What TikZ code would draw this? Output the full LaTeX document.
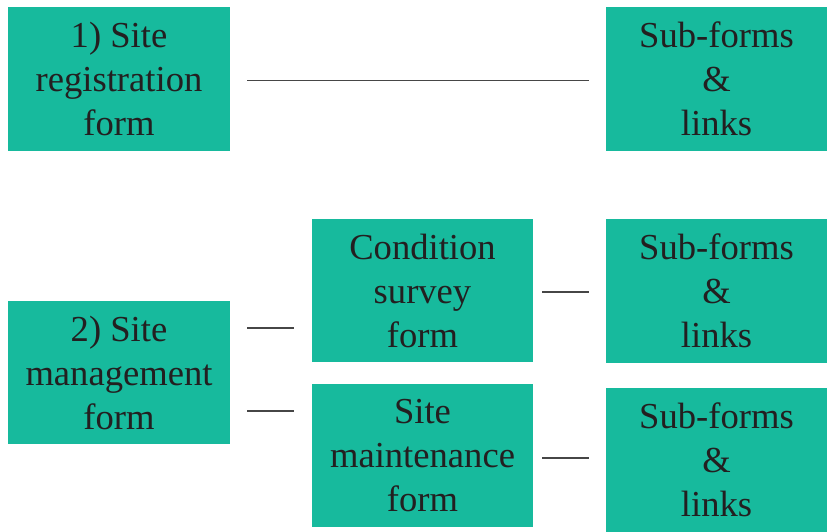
\documentclass[tikz,border=0pt]{standalone}
\usepackage{fontspec}
\setmainfont{Liberation Serif}
\usepackage{tikz}
\definecolor{formgreen}{RGB}{23,186,157}
\definecolor{formtext}{RGB}{35,31,32}
\definecolor{linkgray}{RGB}{70,70,70}

\begin{document}
\begin{tikzpicture}[x=1pt,y=-1pt]
\tikzstyle{formbox}=[rectangle,fill=formgreen,text=formtext,align=center,inner sep=0pt,minimum width=222pt,minimum height=144pt,font=\fontsize{36.6}{44}\selectfont]
\tikzstyle{link}=[draw,linkgray,line width=1.4pt]
\useasboundingbox (0,0) rectangle (827,532);
\node[formbox] (site) at (119,79) {1) Site\\registration\\form};
\node[formbox,minimum width=221pt] (sub1) at (716.5,79) {Sub-forms\\\&\\links};
\node[formbox,minimum height=143pt] (manage) at (119,372.5) {2) Site\\management\\form};
\node[formbox,minimum width=221pt,minimum height=143pt] (survey) at (422.5,290.5) {Condition\\survey\\form};
\node[formbox,minimum width=221pt,minimum height=143pt] (maint) at (422.5,455.5) {Site\\maintenance\\form};
\node[formbox,minimum width=221pt] (sub2) at (716.5,291) {Sub-forms\\\&\\links};
\node[formbox,minimum width=221pt] (sub3) at (716.5,460) {Sub-forms\\\&\\links};
\draw[link,shorten <=17pt,shorten >=17pt] ([yshift=-1.5pt]site.east) -- ([yshift=-1.5pt]sub1.west);
\draw[link,shorten <=17pt,shorten >=18pt] ([yshift=44.5pt]manage.east) -- ([yshift=44.5pt]manage.east -| survey.west);
\draw[link,shorten <=17pt,shorten >=18pt] ([yshift=-38.5pt]manage.east) -- ([yshift=-38.5pt]manage.east -| maint.west);
\draw[link,shorten <=9pt,shorten >=17pt] ([yshift=-1.5pt]survey.east) -- ([yshift=-1.5pt]survey.east -| sub2.west);
\draw[link,shorten <=9pt,shorten >=17pt] ([yshift=-2.5pt]maint.east) -- ([yshift=-2.5pt]maint.east -| sub3.west);
\end{tikzpicture}
\end{document}
